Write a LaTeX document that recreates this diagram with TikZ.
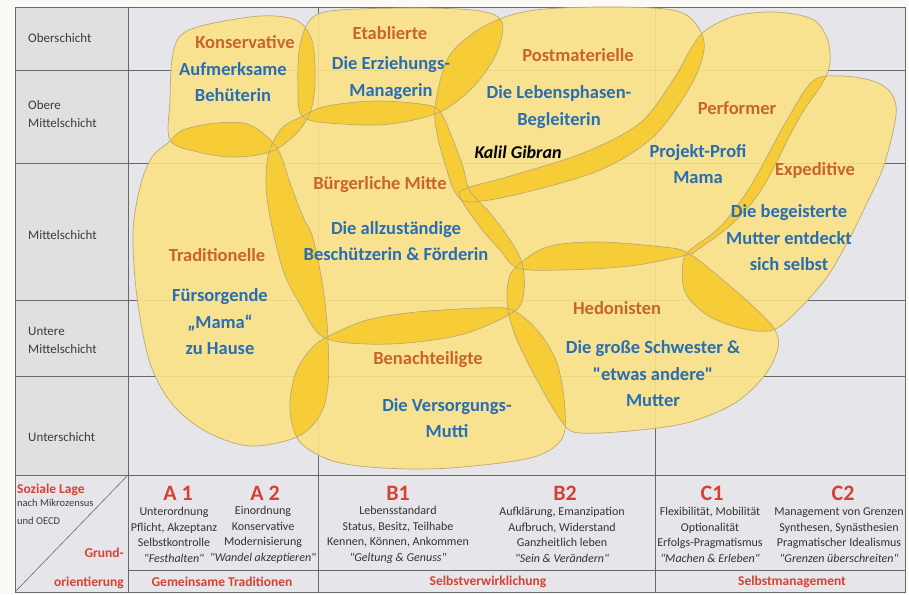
\documentclass[tikz,border=0pt]{standalone}
\usepackage{fontspec}
\setmainfont{Carlito}
\usepackage{tikz}
\usetikzlibrary{positioning}

\definecolor{papier}{RGB}{251,250,247}
\definecolor{zellgrau}{RGB}{230,230,234}
\definecolor{gitter}{RGB}{105,105,108}
\definecolor{hellgelb}{RGB}{251,226,135}
\definecolor{dunkelgelb}{RGB}{247,205,55}
\definecolor{blobrand}{RGB}{190,168,115}
\definecolor{orangebraun}{RGB}{200,100,45}
\definecolor{mittelblau}{RGB}{40,110,180}
\definecolor{lagerot}{RGB}{215,65,50}
\definecolor{dunkelgrau}{RGB}{60,60,60}

% gerade Anfuehrungszeichen
\newcommand{\gz}[1]{\textquotedbl#1\textquotedbl}

% Umrisse der Milieus (Pixelraster, y nach unten)
\newcommand{\konservativ}{plot[smooth cycle, tension=0.55] coordinates {(172,60) (180,36) (205,25) (260,16) (296,20) (311,38) (315,65) (314,95) (309,115) (295,135) (270,152) (233,157) (198,152) (170,140) (170,100)}}
\newcommand{\etabliert}{plot[smooth cycle, tension=0.55] coordinates {(303,117) (298,85) (300,45) (312,18) (340,10) (420,8) (480,11) (502,22) (497,52) (475,85) (440,112) (390,124) (343,124)}}
\newcommand{\postmat}{plot[smooth cycle, tension=0.55] coordinates {(438,138) (435,108) (447,60) (472,34) (505,17) (545,9) (620,7) (677,11) (698,27) (704,50) (690,87) (653,137) (600,170) (523,193) (470,202) (455,192) (446,167)}}
\newcommand{\performer}{plot[smooth cycle, tension=0.55] coordinates {(460,197) (467,188) (507,177) (583,153) (640,123) (673,80) (692,47) (706,30) (735,16) (775,12) (812,19) (827,38) (830,62) (823,82) (798,120) (763,187) (733,223) (697,250) (687,255) (630,266) (563,270) (518,268) (500,250) (480,227)}}
\newcommand{\expeditiv}{plot[smooth cycle, tension=0.55] coordinates {(813,81) (840,76) (873,81) (891,93) (896,115) (884,165) (867,203) (847,243) (827,277) (800,308) (773,330) (740,328) (707,315) (685,292) (683,263) (690,250) (720,227) (750,187) (787,120)}}
\newcommand{\traditionell}{plot[smooth cycle, tension=0.55] coordinates {(168,143) (183,130) (217,123) (250,125) (277,148) (290,183) (303,217) (312,235) (320,270) (325,303) (328,340) (328,385) (320,415) (297,437) (250,446) (207,432) (173,405) (150,363) (137,297) (133,233) (140,187) (152,157)}}
\newcommand{\buergerlich}{plot[smooth cycle, tension=0.55] coordinates {(323,337) (300,304) (283,270) (270,217) (266,183) (269,152) (282,128) (303,116) (327,106) (377,101) (427,105) (441,113) (453,140) (463,167) (470,191) (490,213) (510,240) (522,263) (524,290) (515,311) (467,333) (417,342) (367,344)}}
\newcommand{\benachteiligt}{plot[smooth cycle, tension=0.55] coordinates {(327,337) (367,320) (417,312) (483,308) (512,310) (537,330) (557,363) (565,410) (561,440) (530,458) (450,468) (383,468) (333,461) (300,442) (290,410) (295,375) (310,350)}}
\newcommand{\hedonist}{plot[smooth cycle, tension=0.55] coordinates {(516,267) (547,247) (597,242) (663,247) (688,253) (723,280) (757,310) (775,330) (778,348) (765,375) (735,403) (690,422) (640,430) (580,433) (562,422) (537,380) (517,340) (508,310) (508,283)}}

\begin{document}
\begin{tikzpicture}[x=1pt, y=-1pt,
    milieu/.style={text=orangebraun, font=\fontsize{18.5}{26.5}\selectfont\bfseries, align=center, inner sep=0pt},
    typ/.style={text=mittelblau, font=\fontsize{18.5}{26.5}\selectfont\bfseries, align=center, inner sep=0pt},
    schicht/.style={text=dunkelgrau, font=\fontsize{13}{18}\selectfont, anchor=west, align=left, inner sep=0pt},
    kopf/.style={text=lagerot, font=\fontsize{22}{24}\selectfont\bfseries, inner sep=0pt},
    werte/.style={text=black!80, font=\fontsize{12}{15.5}\selectfont, align=center, inner sep=0pt},
    orient/.style={text=lagerot, font=\fontsize{13.5}{16}\selectfont\bfseries, inner sep=0pt}]
    \useasboundingbox (0,0) rectangle (909,594);
    \fill[papier] (0,0) rectangle (909,594);

    % Raster
    \fill[zellgrau] (15,7) rectangle (905,592);
    \fill[black!12] (15,7) rectangle (128,475);
    \draw[gitter, line width=0.7pt] (15,7) rectangle (905,592);
    \foreach \y in {70,163,300,376}
        \draw[gitter, line width=0.6pt] (15,\y) -- (905,\y);
    \draw[gitter, line width=0.8pt] (15,475) -- (905,475);
    \draw[gitter, line width=0.6pt] (128,570) -- (905,570);
    \foreach \x in {128,318,655}
        \draw[gitter, line width=0.6pt] (\x,7) -- (\x,592);
    \draw[gitter, line width=0.6pt] (15,592) -- (128,475);

    % Milieus
    \foreach \m in {konservativ,etabliert,postmat,performer,expeditiv,traditionell,buergerlich,benachteiligt,hedonist}
        \fill[hellgelb, fill opacity=0.9] \csname\m\endcsname;
    \foreach \a/\b in {konservativ/etabliert, konservativ/traditionell, konservativ/buergerlich,
                       etabliert/buergerlich, etabliert/postmat, postmat/buergerlich, postmat/performer,
                       buergerlich/traditionell, buergerlich/performer, buergerlich/benachteiligt,
                       buergerlich/hedonist, performer/expeditiv, performer/hedonist, expeditiv/hedonist,
                       traditionell/benachteiligt, benachteiligt/hedonist}{
        \begin{scope}
            \clip \csname\a\endcsname;
            \fill[dunkelgelb] \csname\b\endcsname;
        \end{scope}
    }
    \foreach \m in {konservativ,etabliert,postmat,performer,expeditiv,traditionell,buergerlich,benachteiligt,hedonist}
        \draw[blobrand, line width=0.7pt] \csname\m\endcsname;

    % Schichten
    \node[schicht] (ober) at (28,38) {Oberschicht};
    \node[schicht] (obermitte) at (28,114) {Obere\\Mittelschicht};
    \node[schicht] (mitte) at (28,235) {Mittelschicht};
    \node[schicht] (untermitte) at (28,340) {Untere\\Mittelschicht};
    \node[schicht] (unter) at (28,437) {Unterschicht};

    % Milieunamen und Muttertypen
    \node[milieu] (kon) at (245,42) {Konservative};
    \node[typ] (konT) at (233,82) {Aufmerksame\\Behüterin};
    \node[milieu] (eta) at (390,33) {Etablierte};
    \node[typ] (etaT) at (391,78) {Die Erziehungs-\\Managerin};
    \node[milieu] (pmat) at (578,55) {Postmaterielle};
    \node[typ] (pmatT) at (559,107) {Die Lebensphasen-\\Begleiterin};
    \node[font=\fontsize{18}{20}\selectfont\bfseries\itshape, inner sep=0pt] (gibran) at (518,152) {Kalil Gibran};
    \node[milieu] (perf) at (737,108) {Performer};
    \node[typ] (perfT) at (698,164) {Projekt-Profi\\Mama};
    \node[milieu] (expe) at (815,170) {Expeditive};
    \node[typ] (expeT) at (789,238) {Die begeisterte\\Mutter entdeckt\\sich selbst};
    \node[milieu] (bmit) at (380,185) {Bürgerliche Mitte};
    \node[typ] (bmitT) at (396,241) {Die allzuständige\\Beschützerin \& Förderin};
    \node[milieu] (trad) at (217,255) {Traditionelle};
    \node[typ] (tradT) at (220,322) {Fürsorgende\\„Mama“\\zu Hause};
    \node[milieu] (bena) at (428,360) {Benachteiligte};
    \node[typ] (benaT) at (447,418) {Die Versorgungs-\\Mutti};
    \node[milieu] (hedo) at (617,308) {Hedonisten};
    \node[typ] (hedoT) at (653,374) {Die große Schwester \&\\\gz{etwas andere}\\Mutter};

    % Grundorientierung
    \node[orient, anchor=west] (lage) at (17,490) {Soziale Lage};
    \node[text=dunkelgrau, font=\fontsize{10.5}{18}\selectfont, align=left, anchor=north west, inner sep=0pt] (quelle) at (17,499) {nach Mikrozensus\\und OECD};
    \node[orient, align=right, anchor=east, font=\fontsize{13.5}{29}\selectfont\bfseries] (grund) at (124,568) {Grund-\\orientierung};

    \node[kopf] (a1) at (178,493) {A 1};
    \node[kopf] (a2) at (265,493) {A 2};
    \node[kopf] (b1) at (398,493) {B1};
    \node[kopf] (b2) at (565,493) {B2};
    \node[kopf] (c1) at (712,493) {C1};
    \node[kopf] (c2) at (843,493) {C2};
    \node[werte] (a1w) at (174,535) {Unterordnung\\Pflicht, Akzeptanz\\Selbstkontrolle\\\textit{\gz{Festhalten}}};
    \node[werte] (a2w) at (263,535) {Einordnung\\Konservative\\Modernisierung\\\textit{\gz{Wandel akzeptieren}}};
    \node[werte] (b1w) at (398,535) {Lebensstandard\\Status, Besitz, Teilhabe\\Kennen, Können, Ankommen\\\textit{\gz{Geltung \& Genuss}}};
    \node[werte] (b2w) at (562,535) {Aufklärung, Emanzipation\\Aufbruch, Widerstand\\Ganzheitlich leben\\\textit{\gz{Sein \& Verändern}}};
    \node[werte] (c1w) at (710,535) {Flexibilität, Mobilität\\Optionalität\\Erfolgs-Pragmatismus\\\textit{\gz{Machen \& Erleben}}};
    \node[werte] (c2w) at (839,535) {Management von Grenzen\\Synthesen, Synästhesien\\Pragmatischer Idealismus\\\textit{\gz{Grenzen überschreiten}}};

    \node[orient] (gemeinsam) at (222,582) {Gemeinsame Traditionen};
    \node[orient] (selbst) at (488,582) {Selbstverwirklichung};
    \node[orient] (mgmt) at (792,582) {Selbstmanagement};
\end{tikzpicture}
\end{document}
